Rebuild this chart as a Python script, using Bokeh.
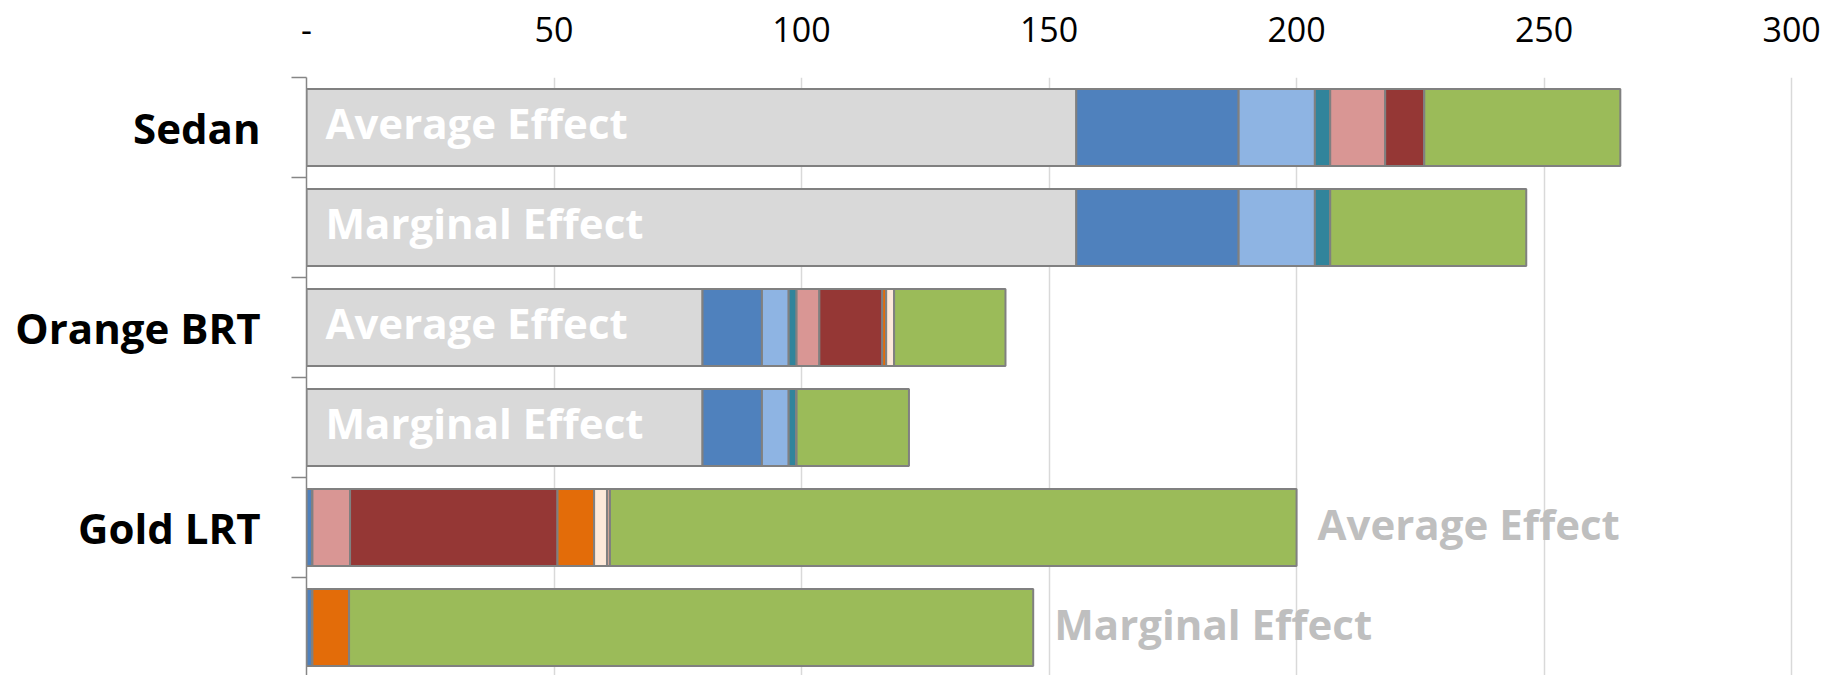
from bokeh.plotting import figure
from bokeh.models import ColumnDataSource, FixedTicker, Range1d
from bokeh.core.properties import value
from bokeh.embed import file_html
from bokeh.resources import INLINE

# ---- data -------------------------------------------------------------
rows = ["Sedan Avg", "Sedan Marg", "Orange Avg", "Orange Marg", "Gold Avg", "Gold Marg"]
row_pos = [0, 1, 2, 3, 4, 5]
group_labels = {0: "Sedan", 2: "Orange BRT", 4: "Gold LRT"}
effect_labels = ["Average Effect", "Marginal Effect", "Average Effect",
                 "Marginal Effect", "Average Effect", "Marginal Effect"]
label_inside = [True, True, True, True, False, False]

base = [155.5, 155.5, 80.0, 80.0, 0.0, 0.0]
dark_blue = [32.8, 32.8, 12.0, 12.0, 1.2, 1.2]
light_blue = [15.4, 15.4, 5.4, 5.4, 0.0, 0.0]
teal = [3.1, 3.1, 1.6, 1.6, 0.0, 0.0]
pink = [11.1, 0.0, 4.6, 0.0, 7.6, 0.0]
dark_red = [7.9, 0.0, 12.7, 0.0, 41.9, 0.0]
orange = [0.0, 0.0, 0.8, 0.0, 7.4, 7.4]
beige = [0.0, 0.0, 1.6, 0.0, 2.6, 0.0]
tan = [0.0, 0.0, 0.0, 0.0, 0.6, 0.0]
green = [39.6, 39.6, 22.5, 22.7, 138.7, 138.2]

x_ticks = [0, 50, 100, 150, 200, 250, 300]
x_tick_labels = {0: "-", 50: "50", 100: "100", 150: "150", 200: "200", 250: "250", 300: "300"}

series = ["base", "dark_blue", "light_blue", "teal", "pink", "dark_red", "orange", "beige", "tan", "green"]
colors = ["#d9d9d9", "#4f81bd", "#8eb4e3", "#31849b", "#d99694", "#953735",
          "#e36c09", "#fde9d9", "#d8a89a", "#9bbb59"]

# ---- source -----------------------------------------------------------
data = dict(y=row_pos, base=base, dark_blue=dark_blue, light_blue=light_blue, teal=teal,
            pink=pink, dark_red=dark_red, orange=orange, beige=beige, tan=tan, green=green)
source = ColumnDataSource(data)

totals = [sum(data[s][i] for s in series) for i in range(len(rows))]

W, H = 1843, 675
frame_left, frame_top = 306, 77
x_end = 302
px_per_unit = 4.95
frame_w = x_end * px_per_unit
frame_h = H - frame_top
y_span = frame_h / 100.0

p = figure(width=W, height=H, output_backend="svg", toolbar_location=None,
           x_range=Range1d(0, x_end), y_range=Range1d(-0.5 + y_span, -0.5),
           x_axis_location="above", min_border_left=frame_left, min_border_top=frame_top,
           min_border_bottom=0, min_border_right=int(W - frame_left - frame_w))
p.outline_line_color = None
p.background_fill_color = "white"

p.hbar_stack(series, y="y", height=0.77, source=source, fill_color=colors,
             line_color="#808080", line_width=2)

# labels
inside = [i for i in range(len(rows)) if label_inside[i]]
outside = [i for i in range(len(rows)) if not label_inside[i]]
p.text(x=[0 for i in inside], y=[row_pos[i] for i in inside],
       text=[effect_labels[i] for i in inside], x_offset=19, y_offset=-5,
       text_font=value("Open Sans"), text_font_style="bold", text_font_size="42px",
       text_color="white", text_baseline="middle", text_align="left")
p.text(x=[totals[i] for i in outside], y=[row_pos[i] for i in outside],
       text=[effect_labels[i] for i in outside], x_offset=21, y_offset=-4,
       text_font=value("Open Sans"), text_font_style="bold", text_font_size="42px",
       text_color="#bfbfbf", text_baseline="middle", text_align="left")

# x axis (top)
xa = p.xaxis[0]
xa.ticker = FixedTicker(ticks=x_ticks)
xa.major_label_overrides = x_tick_labels
xa.axis_line_color = None
xa.major_tick_line_color = None
xa.minor_tick_line_color = None
xa.major_label_text_font = "Open Sans"
xa.major_label_text_font_size = "34px"
xa.major_label_text_color = "black"
xa.major_label_standoff = 30

# y axis (left)
ya = p.yaxis[0]
ya.ticker = FixedTicker(ticks=list(group_labels.keys()),
                        minor_ticks=[-0.5, 0.5, 1.5, 2.5, 3.5, 4.5, 5.5])
ya.major_label_overrides = group_labels
ya.axis_line_color = "#868686"
ya.axis_line_width = 1.5
ya.major_tick_out = 0
ya.major_tick_in = 0
ya.minor_tick_out = 15
ya.minor_tick_in = 0
ya.minor_tick_line_color = "#868686"
ya.minor_tick_line_width = 1.5
ya.major_label_text_font = "Open Sans"
ya.major_label_text_font_style = "bold"
ya.major_label_text_font_size = "42px"
ya.major_label_text_color = "black"
ya.major_label_standoff = 31

p.xgrid.ticker = FixedTicker(ticks=x_ticks[1:])
p.xgrid.grid_line_color = "#d9d9d9"
p.xgrid.grid_line_width = 1.5
p.ygrid.visible = False

open("out.html", "w").write(file_html(p, INLINE))
